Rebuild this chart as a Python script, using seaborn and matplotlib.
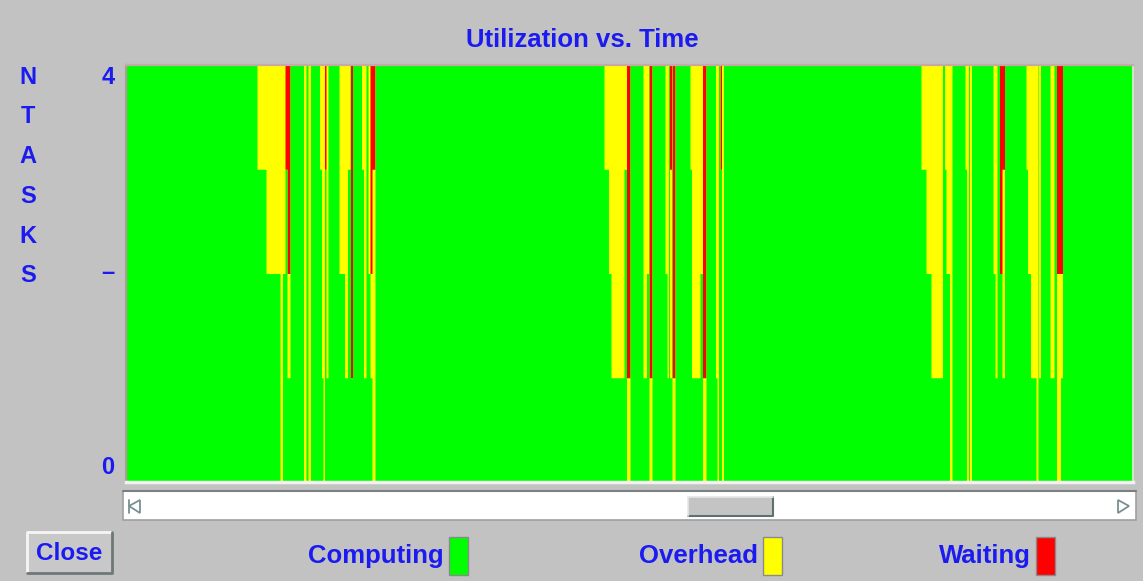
import numpy as np
import pandas as pd
import matplotlib
matplotlib.use("Agg")
import matplotlib.pyplot as plt
from matplotlib.patches import Rectangle, Polygon
import seaborn as sns

# ---- data -----------------------------------------------------------------
N_TASKS = 4
T_END = 1007.0

# intervals where some tasks are not computing:
# start, end, tasks in overhead, tasks waiting
seg_start = [131, 140, 154, 156.5, 159, 161, 177.5, 182, 193.5, 195.5, 197, 198.5,
             200, 213, 218.5, 221.5, 224.5, 235.5, 237.5, 242, 244, 246,
             478, 482.5, 485, 498, 500.5, 517, 520.5, 523, 539, 541, 543.5, 546,
             564, 565.5, 574, 576.5, 589.5, 591, 594, 595.5,
             795, 800, 805, 818.5, 820, 823.5, 839, 840.5, 843.5, 867, 869, 873.5,
             876, 900, 901.5, 904.5, 910, 912.5, 924, 930.5, 934.5]
seg_end = [140, 154, 156.5, 159, 161, 164, 180, 184.5, 195.5, 197, 198.5, 200,
           202, 218.5, 221.5, 224, 226.5, 237.5, 240, 244, 246, 249,
           482.5, 485, 498, 500.5, 504, 520.5, 522.5, 526, 541, 542.5, 545.5, 549,
           565.5, 574, 576.5, 580, 591, 592.5, 595.5, 597.5,
           800, 805, 816.5, 820, 823.5, 826, 840.5, 842.5, 845.5, 869, 871, 876,
           878.5, 901.5, 904.5, 910, 912, 914.5, 928, 934.5, 936.5]
seg_overhead = [1, 2, 4, 2, 0, 1, 4, 4, 1, 3, 4, 0,
                3, 2, 3, 1, 0, 1, 3, 2, 1, 3,
                1, 2, 3, 1, 1, 3, 2, 1, 2, 3, 2, 1,
                1, 3, 2, 1, 3, 4, 0, 4,
                1, 2, 3, 1, 2, 4, 1, 4, 4, 2, 3, 0,
                2, 1, 2, 3, 4, 3, 3, 2, 1]
seg_waiting = [0, 0, 0, 0, 1, 2, 0, 0, 0, 0, 0, 1,
               0, 0, 0, 0, 3, 0, 0, 0, 2, 1,
               0, 0, 0, 0, 3, 0, 0, 3, 0, 0, 1, 3,
               0, 0, 0, 3, 0, 0, 1, 0,
               0, 0, 0, 0, 0, 0, 0, 0, 0, 0, 0, 2,
               1, 0, 0, 0, 0, 0, 0, 2, 2]

y_tick_labels = ["4", "\u2013", "0"]
y_tick_values = [4, 2, 0]
state_names = ["Computing", "Overhead", "Waiting"]

# ---- styling --------------------------------------------------------------
GREEN, YELLOW, RED = "#00FF00", "#FFFF00", "#FF0000"
BLUE = "#1B1BF0"
PANEL = "#C2C2C2"

sns.set_theme(style="white")
plt.rcParams["font.family"] = ["Liberation Sans", "DejaVu Sans"]
plt.rcParams["font.weight"] = "bold"

W, H = 1143, 581
fig = plt.figure(figsize=(W / 100, H / 100), dpi=100, facecolor=PANEL)

# full-window layer for the widgets around the plot (pixel coordinates)
ui = fig.add_axes([0, 0, 1, 1], zorder=0)
ui.set_xlim(0, W)
ui.set_ylim(H, 0)
ui.axis("off")

# ---- state counts on a fine time grid ----------------------------------------
step = 0.5
edges = np.arange(0, T_END + step, step)
centers = edges[:-1] + step / 2
overhead = np.zeros_like(centers)
waiting = np.zeros_like(centers)
for s, e, o, w in zip(seg_start, seg_end, seg_overhead, seg_waiting):
    m = (centers >= s) & (centers < e)
    overhead[m] = o
    waiting[m] = w
computing = N_TASKS - overhead - waiting

counts = pd.DataFrame({
    "time": centers,
    "to_waiting": computing + overhead + waiting,
    "to_overhead": computing + overhead,
    "to_computing": computing,
})

# stacked from the bottom: computing, overhead, waiting
x0, y0, x1, y1 = 126, 65, 1133, 482
ax = fig.add_axes([x0 / W, 1 - y1 / H, (x1 - x0) / W, (y1 - y0) / H], zorder=2)
layers = [("to_waiting", RED), ("to_overhead", YELLOW), ("to_computing", GREEN)]
for col_name, col in layers:
    sns.histplot(data=counts, x="time", weights=col_name, bins=edges.tolist(),
                 element="step", fill=True, color=col, alpha=1, linewidth=0,
                 ax=ax)
ax.set_xlim(0, T_END)
ax.set_ylim(0, N_TASKS)
ax.set_xticks([])
ax.set_yticks([])
ax.set_xlabel("")
ax.set_ylabel("")
for side, col, lw in [("left", "#B09A9A", 1.6), ("top", "#C8A8A8", 1.6),
                      ("right", "#E8E8E8", 1.2), ("bottom", "#F2F2F2", 2.5)]:
    ax.spines[side].set_visible(True)
    ax.spines[side].set_color(col)
    ax.spines[side].set_linewidth(lw)

# ---- texts ------------------------------------------------------------------
ui.text(582, 40, "Utilization vs. Time", color=BLUE, fontsize=18.5,
        fontweight="bold", ha="center", va="center")
for i, ch in enumerate("NTASKS"):
    ui.text(28, 77 + i * 39.8, ch, color=BLUE, fontsize=17, fontweight="bold",
            ha="center", va="center")

# y labels placed just inside the count range
ylab_pos = {4: 77, 2: 272, 0: 467}
for lab, v in zip(y_tick_labels, y_tick_values):
    ui.text(108, ylab_pos[v], lab, color=BLUE, fontsize=17, fontweight="bold",
            ha="center", va="center")

# ---- scrollbar --------------------------------------------------------------
ui.add_patch(Rectangle((123, 491), 1013, 29, facecolor="white",
                       edgecolor="#A0A0A0", lw=1.2))
ui.plot([123, 1136], [491, 491], color="#7A8080", lw=1.5)
ui.add_patch(Polygon([[129, 506], [140, 500], [140, 513]], closed=True,
                     facecolor="none", edgecolor="#7A9090", lw=1.3))
ui.plot([129, 129], [500, 513], color="#7A9090", lw=1.3)
ui.add_patch(Polygon([[1129, 506], [1118, 500], [1118, 513]], closed=True,
                     facecolor="none", edgecolor="#7A9090", lw=1.3))
ui.add_patch(Rectangle((688, 497), 85, 19, facecolor="#C4C4C4",
                       edgecolor="none"))
ui.plot([688, 773, 773], [516, 516, 497], color="#5E7070", lw=1.5)
ui.plot([688, 688, 773], [516, 497, 497], color="#E6E6E6", lw=1.2)

# ---- close button -------------------------------------------------------------
ui.add_patch(Rectangle((27, 532), 85, 41, facecolor="#C8C8C8", edgecolor="none"))
ui.plot([27, 27, 112], [573, 532, 532], color="#F6F6F6", lw=2)
ui.plot([27, 112, 112], [573, 573, 532], color="#6E7878", lw=2)
ui.text(69.5, 553, "Close", color=BLUE, fontsize=17.5, fontweight="bold",
        ha="center", va="center")

# ---- legend -------------------------------------------------------------------
legend_right = [444, 758, 1031]
legend_colors = [GREEN, YELLOW, RED]
for name, xr, col in zip(state_names, legend_right, legend_colors):
    ui.text(xr, 556, name, color=BLUE, fontsize=18.5, fontweight="bold",
            ha="right", va="center")
    ui.add_patch(Rectangle((xr + 5, 537), 19, 38, facecolor=col,
                           edgecolor="#8A8A8A", lw=1))

fig.savefig("out.png", dpi=100, facecolor=PANEL)
